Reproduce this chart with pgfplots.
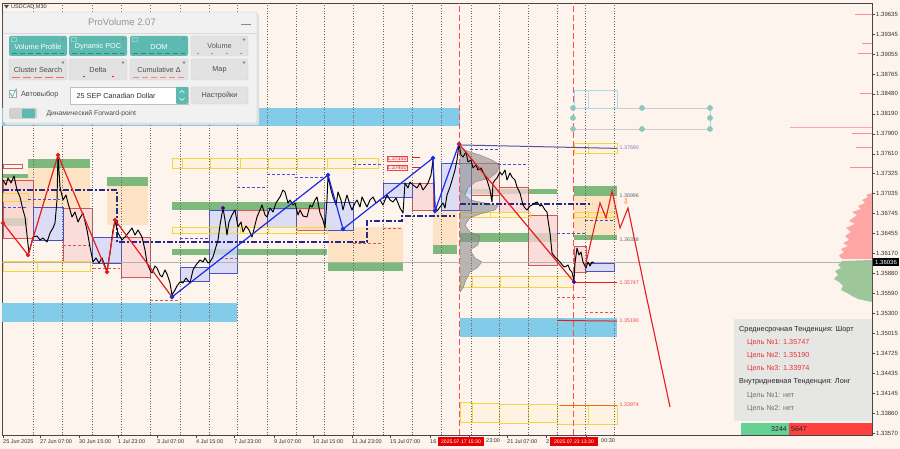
\documentclass[border=0pt]{standalone}
\usepackage{pgfplots}
\pgfplotsset{compat=1.18}
\usepackage{fontspec}
\setmainfont{Liberation Sans}
\newfontfamily\dejavu{DejaVu Sans}
\definecolor{bgc}{RGB}{253,244,238}
\definecolor{axc}{RGB}{70,70,70}
\definecolor{sky}{RGB}{130,204,234}
\definecolor{peach}{RGB}{253,227,196}
\definecolor{zgreen}{RGB}{125,184,125}
\definecolor{vapink}{RGB}{250,212,212}
\definecolor{vapinkd}{RGB}{212,88,88}
\definecolor{vablue}{RGB}{212,216,246}
\definecolor{vablued}{RGB}{70,80,205}
\definecolor{yel}{RGB}{242,214,70}
\definecolor{navy}{RGB}{40,40,135}
\definecolor{zzred}{RGB}{228,30,30}
\definecolor{zzblue}{RGB}{25,45,230}
\definecolor{tealc}{RGB}{92,186,176}
\definecolor{teald}{RGB}{40,140,125}
\definecolor{tdot}{RGB}{140,200,190}
\definecolor{btn}{RGB}{226,226,226}
\definecolor{panelbg}{RGB}{241,241,241}
\tikzset{
 skyf/.style={fill=sky,draw=none},
 peachf/.style={fill=peach,draw=none},
 greenf/.style={fill=zgreen,draw=none},
 pinkf/.style={fill=vapink,fill opacity=0.75,draw=vapinkd,line width=0.7pt},
 bluef/.style={fill=vablue,fill opacity=0.8,draw=vablued,line width=0.7pt},
 yelf/.style={draw=yel,line width=0.8pt,fill=yellow,fill opacity=0.06},
}
\newcommand{\R}[5]{\addplot[#1] coordinates {(#2,#4) (#3,#4) (#3,#5) (#2,#5)} -- cycle;}
\begin{document}
\begin{tikzpicture}
\useasboundingbox (0,0) rectangle (900pt,449pt);
\fill[bgc] (0,0) rectangle (900pt,449pt);
\begin{axis}[at={(2pt,14pt)}, anchor=south west, scale only axis,
 width=870pt, height=432pt,
 xmin=2, xmax=872, ymin=1.33541, ymax=1.39795,
 axis background/.style={fill=bgc},
 axis line style={draw=axc,line width=0.6pt},
 tick style={draw=axc,line width=0.5pt},
 major tick length=3pt, tick align=outside,
 ytick pos=right, yticklabel pos=right, xtick pos=bottom,
 ytick={1.33570,1.33860,1.34145,1.34435,1.34725,1.35015,1.35300,1.35590,1.35880,1.36170,1.36455,1.36745,1.37035,1.37325,1.37610,1.37900,1.38190,1.38480,1.38765,1.39055,1.39345,1.39635},
 yticklabels={1.33570,1.33860,1.34145,1.34435,1.34725,1.35015,1.35300,1.35590,1.35880,1.36170,1.36455,1.36745,1.37035,1.37325,1.37610,1.37900,1.38190,1.38480,1.38765,1.39055,1.39345,1.39635},
 yticklabel style={font=\fontsize{6}{7}\selectfont, text=black!80, anchor=west, inner sep=1pt},
 xtick={3,40,79,118,157,196,234,274,313,352,390,430,469,507,546,586},
 xticklabels={25 Jun 2025,27 Jun 07:00,30 Jun 15:00,1 Jul 23:00,3 Jul 07:00,4 Jul 15:00,7 Jul 23:00,9 Jul 07:00,10 Jul 15:00,11 Jul 23:00,15 Jul 07:00,16,{},21 Jul 07:00,2,{}},
 xticklabel style={font=\fontsize{5.5}{6.5}\selectfont, text=black!80, anchor=north west, inner sep=1pt, xshift=-1pt},
]
% sky bands
\R{skyf}{2}{460}{1.38275}{1.38014}
\R{skyf}{2}{237}{1.35452}{1.35177}
\R{skyf}{460}{617}{1.35235}{1.34960}
% peach zones
\R{peachf}{3}{28}{1.37262}{1.36683}
\R{peachf}{28}{90}{1.37406}{1.36827}
\R{peachf}{107}{148}{1.37146}{1.36581}
\R{peachf}{328}{403}{1.36552}{1.36031}
\R{peachf}{433}{457}{1.36798}{1.36292}
\R{peachf}{574}{617}{1.37001}{1.36436}
% green zones
\R{greenf}{28}{90}{1.37536}{1.37406}
\R{greenf}{3}{28}{1.37319}{1.37262}
\R{greenf}{107}{148}{1.37276}{1.37146}
\R{greenf}{3}{28}{1.36683}{1.36567}
\R{greenf}{172}{327}{1.36914}{1.36798}
\R{greenf}{172}{327}{1.36234}{1.36147}
\R{greenf}{328}{403}{1.36031}{1.35915}
\R{greenf}{433}{457}{1.36292}{1.36161}
\R{greenf}{460}{557}{1.37102}{1.37030}
\R{greenf}{460}{557}{1.36465}{1.36335}
\R{greenf}{574}{617}{1.37146}{1.37001}
\R{greenf}{574}{617}{1.36436}{1.36364}
% value areas
\R{pinkf}{3}{33}{1.37233}{1.36393}
\R{pinkf}{63}{92}{1.36827}{1.36046}
\R{pinkf}{121}{150}{1.36407}{1.35828}
\R{pinkf}{237}{267}{1.36798}{1.36552}
\R{pinkf}{296}{324}{1.36827}{1.36509}
\R{pinkf}{412}{433}{1.37189}{1.36798}
\R{pinkf}{471}{499}{1.37479}{1.37015}
\R{pinkf}{499}{528}{1.37131}{1.36769}
\R{pinkf}{528}{557}{1.36726}{1.36002}
\R{pinkf}{574}{586}{1.36277}{1.35901}
\R{bluef}{33}{63}{1.36842}{1.36364}
\R{bluef}{92}{121}{1.36407}{1.36031}
\R{bluef}{180}{209}{1.35973}{1.35771}
\R{bluef}{209}{237}{1.36798}{1.35886}
\R{bluef}{267}{296}{1.36827}{1.36552}
\R{bluef}{324}{353}{1.36914}{1.36509}
\R{bluef}{383}{412}{1.37189}{1.36987}
\R{bluef}{441}{471}{1.37479}{1.36798}
\R{bluef}{585}{614}{1.36031}{1.35915}
\addplot[draw=vapinkd, line width=0.8pt, fill=white, fill opacity=0.3] coordinates {(3,1.37464) (22,1.37464) (22,1.37406) (3,1.37406)} -- cycle;
% yellow boxes
\R{yelf}{3}{37}{1.36060}{1.35915}
\R{yelf}{37}{62}{1.36060}{1.35915}
\R{yelf}{62}{90}{1.36060}{1.35915}
\R{yelf}{3}{28}{1.37044}{1.36928}
\R{yelf}{172}{182}{1.37551}{1.37406}
\R{yelf}{182}{210}{1.37551}{1.37406}
\R{yelf}{210}{240}{1.37551}{1.37406}
\R{yelf}{240}{268}{1.37551}{1.37406}
\R{yelf}{268}{297}{1.37551}{1.37406}
\R{yelf}{297}{327}{1.37551}{1.37406}
\R{yelf}{327}{355}{1.37551}{1.37406}
\R{yelf}{355}{378}{1.37551}{1.37406}
\R{yelf}{172}{182}{1.36552}{1.36465}
\R{yelf}{182}{210}{1.36552}{1.36465}
\R{yelf}{210}{240}{1.36552}{1.36465}
\R{yelf}{240}{268}{1.36552}{1.36465}
\R{yelf}{268}{297}{1.36552}{1.36465}
\R{yelf}{297}{327}{1.36552}{1.36465}
\R{yelf}{460}{472}{1.35843}{1.35684}
\R{yelf}{472}{500}{1.35843}{1.35684}
\R{yelf}{500}{528}{1.35843}{1.35684}
\R{yelf}{528}{557}{1.35843}{1.35684}
\R{yelf}{557}{573}{1.35843}{1.35684}
\R{yelf}{574}{588}{1.37768}{1.37623}
\R{yelf}{588}{617}{1.37768}{1.37623}
\R{yelf}{460}{490}{1.36769}{1.36697}
\R{yelf}{490}{530}{1.36769}{1.36697}
\R{yelf}{574}{588}{1.36769}{1.36697}
\R{yelf}{588}{617}{1.36769}{1.36697}
\R{yelf}{460}{472}{1.34019}{1.33730}
\R{yelf}{472}{499}{1.34005}{1.33730}
\R{yelf}{499}{528}{1.33990}{1.33715}
\R{yelf}{528}{557}{1.33990}{1.33730}
\R{yelf}{557}{588}{1.33976}{1.33700}
\R{yelf}{588}{617}{1.33976}{1.33700}
% volume profile (session)
\addplot[fill=black!45, fill opacity=0.6, draw=black!55, line width=0.3pt] coordinates {(460,1.37710) (465,1.37667) (470,1.37638) (480,1.37594) (492,1.37522) (500,1.37450) (497,1.37348) (490,1.37262) (475,1.37204) (468,1.37117) (465,1.37015) (470,1.36943) (485,1.36900) (498,1.36856) (495,1.36798) (480,1.36740) (470,1.36683) (465,1.36581) (470,1.36480) (480,1.36422) (478,1.36292) (470,1.36219) (475,1.36104) (482,1.36046) (477,1.35959) (470,1.35901) (466,1.35785) (463,1.35669) (460,1.35611)} -- cycle;
% right-side profile
\addplot[fill=red!55, fill opacity=0.6, draw=none] coordinates {(872,1.37044) (866,1.37015) (868,1.36985) (862,1.36943) (865,1.36900) (858,1.36856) (861,1.36812) (852,1.36769) (857,1.36726) (853,1.36683) (849,1.36640) (855,1.36596) (846,1.36538) (851,1.36480) (845,1.36422) (849,1.36364) (843,1.36320) (848,1.36277) (841,1.36233) (844,1.36190) (839,1.36140) (842,1.36089) (872,1.36089)} -- cycle;
\addplot[fill=zgreen, fill opacity=0.75, draw=none] coordinates {(872,1.36075) (842,1.36060) (838,1.36002) (841,1.35959) (835,1.35915) (838,1.35857) (834,1.35800) (839,1.35756) (843,1.35700) (841,1.35640) (848,1.35590) (852,1.35553) (858,1.35510) (864,1.35490) (872,1.35467)} -- cycle;
\addplot[red!45, line width=0.8pt] coordinates {(855,1.39635) (872,1.39635)};
\addplot[red!45, line width=0.8pt] coordinates {(862,1.39215) (872,1.39215)};
\addplot[red!45, line width=0.8pt] coordinates {(858,1.39070) (872,1.39070)};
\addplot[red!45, line width=0.8pt] coordinates {(860,1.38492) (872,1.38492)};
\addplot[red!35, line width=0.8pt] coordinates {(790,1.37998) (872,1.37998)};
\addplot[red!45, line width=0.8pt] coordinates {(852,1.37912) (872,1.37912)};
\addplot[red!45, line width=0.8pt] coordinates {(856,1.37710) (872,1.37710)};
\addplot[red!45, line width=0.8pt] coordinates {(850,1.37420) (872,1.37420)};
% separators
\pgfplotsinvokeforeach{33,62,92,121,150,180,209,237,267,296,324,353,383,412,441,471,499,528,557,585,614}{
 \addplot[black!60, line width=0.6pt, dotted] coordinates {(#1,1.3354) (#1,1.3980)};
}
\addplot[red!70!white, line width=0.8pt, dash pattern=on 6pt off 3pt] coordinates {(459,1.3354) (459,1.3980)};
\addplot[red!70!white, line width=0.8pt, dash pattern=on 6pt off 3pt] coordinates {(573,1.3354) (573,1.3980)};
\addplot[black!30, line width=0.5pt] coordinates {(2,1.36036) (872,1.36036)};
% POC
\addplot[navy, line width=2pt, dash pattern=on 6pt off 2pt on 2pt off 2pt] coordinates {(3,1.37088) (117,1.37088) (117,1.36335) (367,1.36335) (367,1.36639) (402,1.36639) (402,1.36711) (455,1.36711)};
\addplot[navy, line width=2pt, dash pattern=on 6pt off 2pt on 2pt off 2pt] coordinates {(460,1.36885) (592,1.36885)};
% short dotted levels
\addplot[vapinkd, densely dashed, line width=0.6pt] coordinates {(557,1.35539) (585,1.35539)};
\addplot[vapinkd, densely dashed, line width=0.6pt] coordinates {(585,1.35322) (613,1.35322)};
\addplot[vapinkd, densely dashed, line width=0.6pt] coordinates {(63,1.36292) (90,1.36292)};
\addplot[vapinkd, densely dashed, line width=0.6pt] coordinates {(93,1.35959) (120,1.35959)};
\addplot[vapinkd, densely dashed, line width=0.6pt] coordinates {(150,1.35496) (180,1.35496)};
\addplot[vapinkd, densely dashed, line width=0.6pt] coordinates {(220,1.36104) (237,1.36104)};
\addplot[vapinkd, densely dashed, line width=0.6pt] coordinates {(353,1.36321) (382,1.36321)};
\addplot[vapinkd, densely dashed, line width=0.6pt] coordinates {(383,1.36538) (403,1.36538)};
\addplot[vablued, densely dashed, line width=0.6pt] coordinates {(470,1.37681) (498,1.37681)};
\addplot[vablued, densely dashed, line width=0.6pt] coordinates {(498,1.37464) (527,1.37464)};
\addplot[vablued, densely dashed, line width=0.6pt] coordinates {(557,1.36465) (587,1.36465)};
\addplot[vablued, densely dashed, line width=0.6pt] coordinates {(585,1.36654) (613,1.36654)};
\addplot[vablued, densely dashed, line width=0.6pt] coordinates {(28,1.36957) (60,1.36957)};
\addplot[vablued, densely dashed, line width=0.6pt] coordinates {(3,1.36842) (28,1.36842)};
\addplot[vablued, densely dashed, line width=0.6pt] coordinates {(180,1.36393) (208,1.36393)};
\addplot[vablued, densely dashed, line width=0.6pt] coordinates {(267,1.37319) (295,1.37319)};
\addplot[vablued, densely dashed, line width=0.6pt] coordinates {(295,1.37276) (323,1.37276)};
\addplot[vablued, densely dashed, line width=0.6pt] coordinates {(237,1.37131) (267,1.37131)};
\addplot[vablued, densely dashed, line width=0.6pt] coordinates {(353,1.37464) (382,1.37464)};
% target levels
\addplot[navy!80, line width=1pt] coordinates {(459,1.37740) (530,1.37718) (617,1.37690)};
\addplot[zzred, line width=1pt] coordinates {(574,1.35747) (617,1.35747)};
\addplot[zzred, line width=1pt] coordinates {(557,1.35200) (585,1.35195) (617,1.35190)};
\addplot[orange!80!red, line width=1pt] coordinates {(560,1.33974) (617,1.33974)};
\addplot[zzred, line width=0.6pt] coordinates {(412,1.37565) (420,1.37565)};
\addplot[zzred, line width=0.6pt] coordinates {(412,1.37420) (420,1.37420)};
% price
\addplot[black, line width=0.95pt, line join=round] coordinates {
(3,1.37233) (6,1.37160) (8,1.37262) (11,1.37189) (14,1.37290) (17,1.37088) (20,1.36987) (23,1.36798) (25,1.36697) (27,1.36437) (29,1.36176) (31,1.36292) (33,1.36407) (37,1.36422) (40,1.36364) (43,1.36393) (47,1.36335) (50,1.36465) (53,1.36538) (55,1.36610) (57,1.36943) (58,1.37594)
(60,1.37131) (63,1.36943) (66,1.37015) (68,1.36900) (72,1.36697) (75,1.36769) (78,1.36625) (80,1.36683) (83,1.36755) (87,1.36509) (90,1.36263) (93,1.36046) (96,1.36104) (99,1.36031) (102,1.36104) (105,1.35988) (107,1.35915) (110,1.36176) (113,1.36509) (115,1.36639)
(118,1.36465) (122,1.36364) (125,1.36407) (129,1.36480) (132,1.36538) (135,1.36436) (138,1.36509) (142,1.36407) (145,1.36219) (147,1.36031) (150,1.35930) (152,1.35886) (155,1.35988) (157,1.35959) (160,1.35857) (162,1.35828) (165,1.35930) (167,1.35872) (170,1.35742) (172,1.35568)
(175,1.35640) (177,1.35698) (180,1.35756) (183,1.35742) (186,1.35814) (190,1.35742) (193,1.35930) (196,1.36002) (200,1.36075) (203,1.36046) (205,1.36104) (208,1.36031) (210,1.36046) (213,1.36118) (215,1.36219) (218,1.36364) (220,1.36581) (223,1.36827) (225,1.36654) (227,1.36437)
(229,1.36625) (232,1.36726) (235,1.36798) (238,1.36552) (241,1.36625) (243,1.36480) (246,1.36567) (249,1.36509) (252,1.36407) (255,1.36581) (257,1.36697) (260,1.36798) (262,1.36871) (265,1.36726) (267,1.36697) (270,1.36827) (273,1.36769) (276,1.36900) (280,1.36987) (283,1.37088)
(285,1.37059) (288,1.36900) (290,1.36943) (293,1.36871) (295,1.36900) (298,1.36726) (300,1.36798) (303,1.36711) (307,1.36697) (310,1.36871) (312,1.36842) (315,1.36943) (317,1.36987) (320,1.36755) (323,1.36654) (325,1.36538) (327,1.36943) (328,1.37290)
(331,1.37088) (333,1.36987) (336,1.36871) (338,1.37059) (341,1.36943) (343,1.36798) (345,1.36914) (347,1.37015) (350,1.36871) (352,1.36798) (355,1.36900) (357,1.36943) (360,1.36842) (362,1.36987) (365,1.36900) (367,1.36842) (370,1.36943) (373,1.36987) (376,1.36900) (380,1.36943)
(383,1.36871) (387,1.37015) (390,1.36943) (393,1.36914) (396,1.36972) (400,1.36827) (403,1.36755) (405,1.37189) (408,1.37117) (410,1.37204) (413,1.37160) (417,1.37117) (420,1.37189) (423,1.37088) (426,1.37146) (428,1.37189) (431,1.37305) (433,1.37522)
(435,1.36842) (437,1.36784) (440,1.36842) (443,1.36900) (445,1.36827) (447,1.37015) (450,1.37131) (453,1.37276) (455,1.37377) (457,1.37522) (459,1.37754) (461,1.37594) (463,1.37565) (466,1.37638) (468,1.37493) (471,1.37522) (473,1.37406) (476,1.37450) (478,1.37377) (481,1.37406)
(483,1.37348) (485,1.37290) (487,1.37233) (490,1.37088) (492,1.36914) (493,1.37189) (495,1.37233) (497,1.37262) (500,1.37348) (502,1.37305) (505,1.37377) (507,1.37233) (510,1.37334) (512,1.37276) (515,1.37233) (517,1.37131) (520,1.37044) (523,1.36871) (525,1.36827) (527,1.36798)
(530,1.36856) (532,1.36871) (535,1.36900) (537,1.36914) (540,1.36856) (542,1.36871) (545,1.36798) (547,1.36769) (548,1.36654) (550,1.36465) (552,1.36176) (555,1.36118) (558,1.36075) (560,1.36046) (563,1.35988) (565,1.35973) (568,1.36002) (570,1.35930) (572,1.35901) (574,1.35771)
(575,1.36031) (577,1.36248) (579,1.36147) (581,1.36190) (583,1.36046) (586,1.35959) (588,1.36046) (590,1.35988) (592,1.36046) (594,1.36036)};
% zigzags
\addplot[zzred, line width=1.2pt, mark=*, mark size=1.6pt, mark options={fill=zzred,draw=zzred}] coordinates {(3,1.36610) (28,1.36147) (58,1.37594) (107,1.35901) (115,1.36654) (172,1.35539)};
\addplot[zzblue, line width=1.2pt, mark=*, mark size=1.6pt, mark options={fill=zzblue,draw=zzblue}] coordinates {(172,1.35539) (328,1.37305) (343,1.36523) (433,1.37551) (435,1.36784) (459,1.37754)};
\addplot[zzred, line width=1.2pt] coordinates {(459,1.37754) (574,1.35756)};
\addplot[only marks, mark=*, mark size=1.8pt, mark options={fill=zzred,draw=zzred}] coordinates {(459,1.37754)};
\addplot[only marks, mark=*, mark size=1.8pt, mark options={fill=blue!70!red,draw=blue!70!red}] coordinates {(574,1.35756) (223,1.36827)};
% forecast
\addplot[zzred, line width=1.1pt] coordinates {(585,1.35973) (600,1.36900) (606,1.36683) (612,1.37073) (620,1.36538) (628,1.36827) (645,1.35640) (670,1.33947)};
% top-right grid of handles
\addplot[black!20, line width=0.7pt] coordinates {(573,1.38275) (710,1.38275) (710,1.37971) (573,1.37971)};
\addplot[sky!70!white, line width=0.7pt] coordinates {(574,1.38535) (617,1.38535) (617,1.38275) (574,1.38275) (574,1.38535)};
\addplot[sky!70!white, line width=0.7pt] coordinates {(588,1.38535) (588,1.38275)};
\addplot[only marks, mark=*, mark size=2.6pt, mark options={fill=tdot,draw=tdot}] coordinates {(573,1.38275) (642,1.38275) (710,1.38275) (573,1.38130) (710,1.38130) (573,1.37971) (642,1.37971) (710,1.37971)};
\end{axis}
% ---------- overlays in pixel coordinates ----------
\begin{scope}[x=1pt,y=-1pt,yshift=449pt]
% line labels
\tikzset{lbl/.style={anchor=west,inner sep=0.5pt,font=\fontsize{5.3}{6}\selectfont}}
\node[lbl,text=navy!60] at (619,148) {1.37690};
\node[lbl,text=black!60] at (619,196) {1.36996};
\node[lbl,text=black!60] at (619,240) {1.36358};
\node[lbl,text=zzred!80] at (619,283) {1.35747};
\node[lbl,text=zzred!80] at (619,321) {1.35190};
\node[lbl,text=zzred!80] at (619,405) {1.33974};
\node[draw=zzred!80, fill=red!8, text=zzred, inner sep=0.6pt, font=\fontsize{5.3}{6}\selectfont] at (397,158.5) {1.37350};
\node[draw=zzred!80, fill=red!8, text=zzred, inner sep=0.6pt, font=\fontsize{5.3}{6}\selectfont] at (397,168) {1.37400};
\node[text=orange!90!red, inner sep=0pt, font=\dejavu\fontsize{8}{8}\selectfont] at (626,202) {⇩};
% symbol label
\fill[black!70] (4,5) -- (9,5) -- (6.5,8.5) -- cycle;
\node[anchor=west, inner sep=0pt, font=\fontsize{5.5}{6}\selectfont, text=black!80] at (11,7) {USDCAD,M30};
% panel
\fill[black!12, rounded corners=2pt] (5,14) rectangle (259,125);
\fill[panelbg, draw=black!22, rounded corners=2pt] (3,12) rectangle (257,123);
\draw[black!15] (3.5,33) -- (256.5,33);
\node[text=black!42, font=\fontsize{9.5}{11}\selectfont] at (122,22.5) {ProVolume 2.07};
\draw[black!45, line width=0.9pt] (241,24) -- (251,24);
\tikzset{bt/.style={font=\fontsize{7.3}{8}\selectfont}}
% row 1
\foreach \a/\b/\t in {9/67/Volume Profile,69/127/Dynamic POC,130/188/DOM}{
 \fill[tealc, rounded corners=1.5pt] (\a,36) rectangle (\b,56);
 \node[bt,text=white] at ({(\a+\b)/2},46.5) {\t};
 \draw[teald, line width=0.8pt, dash pattern=on 5pt off 3pt] ({\a+3},53.5) -- ({\b-3},53.5);
 \draw[white!60!teal, line width=0.4pt] ({\a+2},37.5) rectangle ({\a+7},41.5);
 \fill[black!45] ({\b-4},39.5) circle (1.3pt);
}
\fill[btn, draw=black!18, rounded corners=1.5pt] (191,36) rectangle (248,56);
\node[bt,text=black!65] at (219.5,46) {Volume};
\fill[black!45] (244,39.5) circle (1.3pt);
\foreach \xx/\cc in {198/red,212/green!60!black,227/red,241/red}{\fill[\cc] (\xx,53.5) circle (0.7pt);}
% row 2
\foreach \a/\b/\t in {9/67/Cluster Search,69/127/Delta,130/188/Cumulative Δ,191/248/Map}{
 \fill[btn, draw=black!18, rounded corners=1.5pt] (\a,59) rectangle (\b,80);
 \node[bt,text=black!70] at ({(\a+\b)/2},70) {\t};
 \fill[black!45] ({\b-4},62.5) circle (1.3pt);
}
\draw[red!60, line width=0.7pt, dash pattern=on 8pt off 3pt] (12,77) -- (64,77);
\fill[green!55!black] (84,76.5) circle (0.8pt);
\fill[red] (113,76.5) circle (0.8pt);
\draw[red!50, line width=0.7pt, dash pattern=on 6pt off 3pt] (133,77) -- (185,77);
% row 3
\fill[white, draw=black!35] (9,90) rectangle (16,97);
\draw[tealc, line width=0.9pt] (10,93) -- (12.5,96.5) -- (16.5,88.5);
\node[anchor=west, bt, text=black!70] at (17.5,94.5) {Автовыбор};
\fill[white, draw=black!25] (70,87) rectangle (188,104);
\node[anchor=west, bt, text=black!80] at (73,95.5) {25 SEP Canadian Dollar};
\fill[tealc, rounded corners=1pt] (176,87) rectangle (188,104);
\draw[white, line width=0.6pt] (179.5,93) -- (182,90.5) -- (184.5,93);
\draw[white, line width=0.6pt] (179.5,98) -- (182,100.5) -- (184.5,98);
\fill[btn, draw=black!18, rounded corners=1.5pt] (191,87) rectangle (248,104);
\node[bt,text=black!70] at (219.5,95.5) {Настройки};
% row 4
\fill[black!18, rounded corners=1.5pt] (9,108) rectangle (37,119);
\fill[tealc, rounded corners=1pt] (22,109) rectangle (35,118);
\node[anchor=west, font=\fontsize{6.8}{8}\selectfont, text=black!70] at (43,113.5) {Динамический Forward-point};
% info box
\fill[black!10, fill opacity=0.92] (734,319) rectangle (872,421);
\tikzset{ib/.style={anchor=west, inner sep=0pt, font=\fontsize{7.3}{8}\selectfont}}
\node[ib,text=black!85] at (739,330) {Среднесрочная Тенденция: Шорт};
\node[ib,text=zzred!90] at (747,343) {Цель №1: 1.35747};
\node[ib,text=zzred!90] at (747,356) {Цель №2: 1.35190};
\node[ib,text=zzred!90] at (747,369) {Цель №3: 1.33974};
\node[ib,text=black!85] at (739,382) {Внутридневная Тенденция: Лонг};
\node[ib,text=black!55] at (747,395.5) {Цель №1: нет};
\node[ib,text=black!55] at (747,409) {Цель №2: нет};
% volume bar
\fill[green!40!teal!60!white] (741,423) rectangle (789,435);
\fill[red!75!white] (789,423) rectangle (872,435);
\node[anchor=east, inner sep=0pt, font=\fontsize{7}{8}\selectfont, text=black!85] at (787,429) {3244};
\node[anchor=west, inner sep=0pt, font=\fontsize{7}{8}\selectfont, text=black!85] at (791,429) {5647};
% current price box
\fill[black] (873,258.5) rectangle (899,266.5);
\node[anchor=west, inner sep=0pt, font=\fontsize{6}{7}\selectfont, text=white] at (875,262.5) {1.36036};
% partially hidden time labels
\node[anchor=west, inner sep=0pt, font=\fontsize{5.5}{6.5}\selectfont, text=black!80] at (486,441) {23:00};
\node[anchor=west, inner sep=0pt, font=\fontsize{5.5}{6.5}\selectfont, text=black!80] at (601,441) {00:30};
% date boxes
\fill[red!90!black] (438,437) rectangle (484,446);
\node[inner sep=0pt, font=\fontsize{5.1}{6}\selectfont, text=white] at (461,441.5) {2025.07.17 15:30};
\fill[red!90!black] (550,437) rectangle (598,446);
\node[inner sep=0pt, font=\fontsize{5.1}{6}\selectfont, text=white] at (574,441.5) {2025.07.23 13:30};
\end{scope}
\end{tikzpicture}
\end{document}
